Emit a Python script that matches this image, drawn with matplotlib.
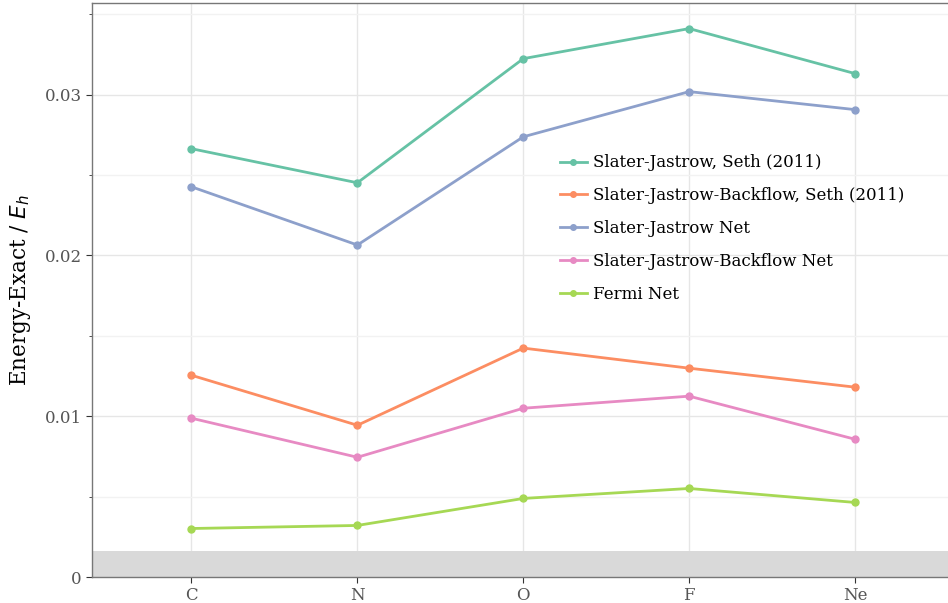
import matplotlib
matplotlib.use("Agg")
import matplotlib.pyplot as plt
from matplotlib.ticker import MultipleLocator, FuncFormatter

atoms = ["C", "N", "O", "F", "Ne"]
series_names = [
    "Slater-Jastrow, Seth (2011)",
    "Slater-Jastrow-Backflow, Seth (2011)",
    "Slater-Jastrow Net",
    "Slater-Jastrow-Backflow Net",
    "Fermi Net",
]
sj_seth = [0.02664, 0.02452, 0.03224, 0.03411, 0.03131]
sjb_seth = [0.01255, 0.00944, 0.01424, 0.01299, 0.01181]
sj_net = [0.02427, 0.02065, 0.02738, 0.03019, 0.02907]
sjb_net = [0.00988, 0.00745, 0.01050, 0.01125, 0.00857]
fermi_net = [0.00302, 0.00321, 0.00489, 0.00551, 0.00464]
chem_acc = 0.0016

colors = ["#66c2a5", "#fc8d62", "#8da0cb", "#e78ac3", "#a6d854"]

plt.rcParams["font.family"] = ["DejaVu Serif"]
fig = plt.figure(figsize=(9.48, 6.03), dpi=100)
ax = fig.add_axes([0.097, 0.043, 0.91, 0.952])

x = list(range(len(atoms)))
for name, vals, c in zip(series_names, [sj_seth, sjb_seth, sj_net, sjb_net, fermi_net], colors):
    ax.plot(x, vals, color=c, lw=2, marker="o", ms=5, label=name, zorder=3)

ax.axhspan(0, chem_acc, color="#d9d9d9", zorder=1, lw=0)

ax.set_xlim(-0.6, 4.6)
ax.set_ylim(0, 0.0357)
ax.set_xticks(x)
ax.set_xticklabels(atoms)
ax.yaxis.set_major_locator(MultipleLocator(0.01))
ax.yaxis.set_minor_locator(MultipleLocator(0.005))
ax.yaxis.set_major_formatter(FuncFormatter(lambda v, p: "0" if abs(v) < 1e-12 else f"{v:.2f}"))

ax.grid(True, which="major", color="#e6e6e6", lw=1, zorder=0)
ax.grid(True, which="minor", axis="y", color="#f2f2f2", lw=1, zorder=0)
ax.set_axisbelow(True)

for s in ["left", "bottom", "top"]:
    ax.spines[s].set_color("#777777")
    ax.spines[s].set_linewidth(1)
ax.spines["right"].set_visible(False)

ax.tick_params(axis="both", which="major", length=4, color="#333333", labelcolor="#555555", labelsize=12)
ax.tick_params(axis="y", which="minor", length=2, color="#333333")
ax.set_ylabel("Energy-Exact / $E_h$", fontsize=15.5, color="black", labelpad=8)

leg = ax.legend(loc="upper left", bbox_to_anchor=(0.535, 0.748), frameon=False, fontsize=12,
                handlelength=1.6, handletextpad=0.4, labelspacing=0.95, markerscale=0.8,
                borderaxespad=0)

fig.savefig("out.png", dpi=100)
